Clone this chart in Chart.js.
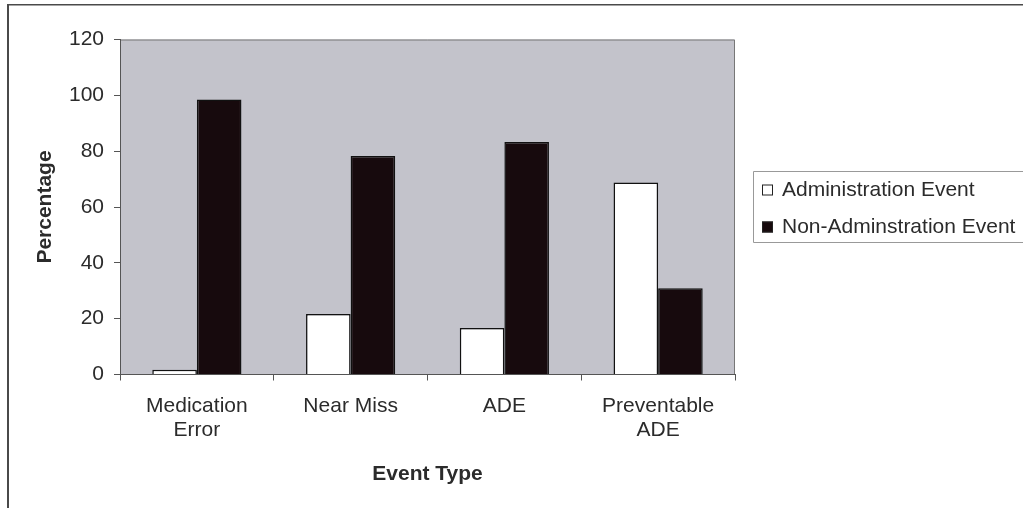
<!DOCTYPE html>
<html>
<head>
<meta charset="utf-8">
<script src="https://cdn.jsdelivr.net/npm/chart.js@4.4.0/dist/chart.umd.min.js"></script>
<style>
  body { margin: 0; background: #fff; }
  #wrap { position: relative; width: 1023px; height: 508px; }
</style>
</head>
<body>
<div id="wrap"><canvas id="chart" width="1023" height="508"></canvas></div>
<script>
// data
const categories = [["Medication", "Error"], "Near Miss", "ADE", ["Preventable", "ADE"]];
const adminEvent = [1.7, 21.7, 16.7, 68.8];
const nonAdminEvent = [98.5, 78.3, 83.3, 30.9];
const yTicks = [0, 20, 40, 60, 80, 100, 120];

const FONT = "Arial, 'Liberation Sans', sans-serif";
const TEXT = "#2b2b2b";

// grey plot area with a thin frame
const plotBackground = {
    id: "plotBackground",
    beforeDraw(chart) {
        const { ctx, chartArea: a } = chart;
        ctx.save();
        ctx.fillStyle = "#c3c3cb";
        ctx.fillRect(a.left, a.top, a.right - a.left, a.bottom - a.top);
        ctx.strokeStyle = "#777";
        ctx.lineWidth = 1;
        ctx.beginPath();
        ctx.moveTo(a.left, a.top + 0.5);
        ctx.lineTo(a.right - 0.5, a.top + 0.5);
        ctx.lineTo(a.right - 0.5, a.bottom);
        ctx.stroke();
        ctx.restore();
    },
    afterDraw(chart) {
        // outer chart frame (top and left edges only)
        const ctx = chart.ctx;
        ctx.save();
        ctx.strokeStyle = "#4a4a4a";
        ctx.lineWidth = 1.5;
        ctx.beginPath();
        ctx.moveTo(1023, 4.75);
        ctx.lineTo(8, 4.75);
        ctx.stroke();
        ctx.lineWidth = 2;
        ctx.beginPath();
        ctx.moveTo(8, 4);
        ctx.lineTo(8, 508);
        ctx.stroke();
        ctx.restore();
    }
};

// boxed legend to the right, like the original
const boxLegend = {
    id: "boxLegend",
    afterDraw(chart) {
        const ctx = chart.ctx;
        const x = 753, top = 171, bottom = 242;
        ctx.save();
        ctx.strokeStyle = "#999";
        ctx.lineWidth = 1;
        ctx.beginPath();
        ctx.moveTo(1030, top + 0.5);
        ctx.lineTo(x + 0.5, top + 0.5);
        ctx.lineTo(x + 0.5, bottom + 0.5);
        ctx.lineTo(1030, bottom + 0.5);
        ctx.stroke();
        ctx.font = "21px " + FONT;
        ctx.textBaseline = "middle";
        ctx.fillStyle = TEXT;
        const rows = [190, 227];
        chart.data.datasets.forEach((ds, i) => {
            const y = rows[i];
            ctx.fillStyle = ds.backgroundColor;
            ctx.fillRect(762, y - 5.5, 11, 11);
            ctx.strokeStyle = "#222";
            ctx.lineWidth = 1;
            ctx.strokeRect(762.5, y - 5, 10, 10);
            ctx.fillStyle = TEXT;
            ctx.fillText(ds.label, 782, y);
        });
        ctx.restore();
    }
};

new Chart(document.getElementById("chart"), {
    type: "bar",
    data: {
        labels: categories,
        datasets: [
            {
                label: "Administration Event",
                data: adminEvent,
                backgroundColor: "#ffffff",
                borderColor: "#111",
                borderWidth: 1.5
            },
            {
                label: "Non-Adminstration Event",
                data: nonAdminEvent,
                backgroundColor: "#170a0d",
                borderColor: "#111",
                borderWidth: 1.5
            }
        ]
    },
    options: {
        responsive: false,
        animation: false,
        layout: { padding: { left: 8, right: 288, top: 39.5, bottom: 0 } },
        datasets: { bar: { categoryPercentage: 0.58, barPercentage: 1 } },
        plugins: {
            legend: { display: false },
            tooltip: { enabled: false }
        },
        scales: {
            x: {
                afterFit(scale) { scale.height = 133.5; },
                grid: {
                    offset: true,
                    drawOnChartArea: false,
                    drawTicks: true,
                    tickLength: 6,
                    color: "#555"
                },
                border: { display: true, color: "#555", width: 1 },
                ticks: {
                    color: TEXT,
                    padding: 13.5,
                    maxRotation: 0,
                    autoSkip: false,
                    font: { family: FONT, size: 21, lineHeight: 1.15 }
                },
                title: {
                    display: true,
                    text: "Event Type",
                    color: TEXT,
                    padding: { top: 0, bottom: 21.4 },
                    font: { family: FONT, size: 21, weight: "bold", lineHeight: 1.2 }
                }
            },
            y: {
                min: 0,
                max: 120,
                afterFit(scale) { scale.width = 112; },
                afterBuildTicks(scale) { scale.ticks = yTicks.map(v => ({ value: v })); },
                grid: {
                    drawOnChartArea: false,
                    drawTicks: true,
                    tickLength: 6,
                    color: "#555"
                },
                border: { display: true, color: "#555", width: 1 },
                ticks: {
                    color: TEXT,
                    padding: 10,
                    font: { family: FONT, size: 21 }
                },
                title: {
                    display: true,
                    text: "Percentage",
                    color: TEXT,
                    padding: { top: 24.4, bottom: 0 },
                    font: { family: FONT, size: 21, weight: "bold", lineHeight: 1.2 }
                }
            }
        }
    },
    plugins: [plotBackground, boxLegend]
});
</script>
</body>
</html>
